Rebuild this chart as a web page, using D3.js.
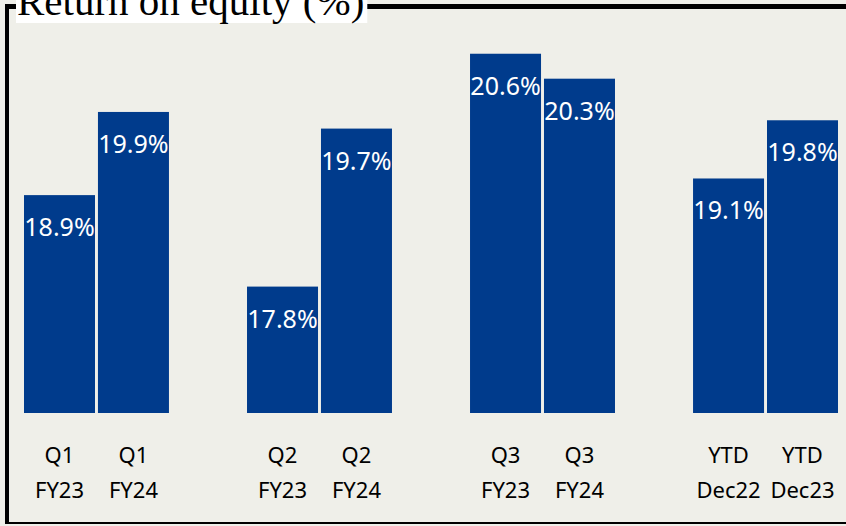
<!DOCTYPE html>
<html><head><meta charset="utf-8">
<script src="https://cdn.jsdelivr.net/npm/d3@7"></script>
<style>html,body{margin:0;padding:0;background:#efefe9;}svg{display:block;}</style>
</head><body>
<svg id="chart" width="846" height="526"></svg>
<script>
const title = "Return on equity (%)";
const groups = ["Q1", "Q2", "Q3", "YTD"];
const periods = ["prior", "current"];
const labelTop = [["Q1","Q1"],["Q2","Q2"],["Q3","Q3"],["YTD","YTD"]];
const labelBottom = [["FY23","FY24"],["FY23","FY24"],["FY23","FY24"],["Dec22","Dec23"]];
const values = [[18.9, 19.9],[17.8, 19.7],[20.6, 20.3],[19.1, 19.8]];

const W = 846, H = 526;
const svg = d3.select("#chart");

svg.append("rect").attr("width", W).attr("height", H).attr("fill", "#efefe9");

const x0 = d3.scaleBand().domain(groups).range([24, 838]).paddingInner(0.35).paddingOuter(0);
const x1 = d3.scaleBand().domain(periods).range([0, x0.bandwidth()]).paddingInner(0.04);
const y = d3.scaleLinear().domain([16.28, 21.15]).range([413, 8]);

const data = [];
groups.forEach((g, gi) => periods.forEach((p, pi) => data.push({
  g, p, v: values[gi][pi], t: labelTop[gi][pi], b: labelBottom[gi][pi]
})));

const bars = svg.append("g");
bars.selectAll("rect").data(data).join("rect")
  .attr("x", d => x0(d.g) + x1(d.p))
  .attr("y", d => y(d.v))
  .attr("width", x1.bandwidth())
  .attr("height", d => y.range()[0] - y(d.v))
  .attr("fill", "#003b8c");

bars.selectAll("text.val").data(data).join("text")
  .attr("class", "val")
  .attr("x", d => x0(d.g) + x1(d.p) + x1.bandwidth() / 2)
  .attr("y", d => y(d.v) + 41)
  .attr("text-anchor", "middle")
  .attr("fill", "#ffffff")
  .attr("font-family", "'Noto Sans', sans-serif")
  .attr("font-size", 25)
  .text(d => d.v.toFixed(1) + "%");

const cats = svg.append("g")
  .attr("font-family", "'Noto Sans', sans-serif")
  .attr("font-size", 22)
  .attr("fill", "#000")
  .attr("text-anchor", "middle");
cats.selectAll("text.t").data(data).join("text").attr("class", "t")
  .attr("x", d => x0(d.g) + x1(d.p) + x1.bandwidth() / 2)
  .attr("y", 463).text(d => d.t);
cats.selectAll("text.b").data(data).join("text").attr("class", "b")
  .attr("x", d => x0(d.g) + x1(d.p) + x1.bandwidth() / 2)
  .attr("y", 498).text(d => d.b);

svg.append("line").attr("x1", 7).attr("x2", 7).attr("y1", 4).attr("y2", 524)
  .attr("stroke", "#000").attr("stroke-width", 4);
svg.append("line").attr("x1", 5).attr("x2", W).attr("y1", 6.5).attr("y2", 6.5)
  .attr("stroke", "#000").attr("stroke-width", 5);
svg.append("line").attr("x1", 5).attr("x2", W).attr("y1", 523).attr("y2", 523)
  .attr("stroke", "#000").attr("stroke-width", 2);

const tg = svg.append("g");
const tt = tg.append("text")
  .attr("x", 17).attr("y", 15)
  .attr("font-family", "'Liberation Serif', 'Times New Roman', serif")
  .attr("font-size", 41)
  .attr("fill", "#000")
  .text(title);
const bb = tt.node().getBBox();
tg.insert("rect", "text").attr("x", 16).attr("y", 0)
  .attr("width", bb.width + 4).attr("height", 23).attr("fill", "#ffffff");
</script>
</body></html>
